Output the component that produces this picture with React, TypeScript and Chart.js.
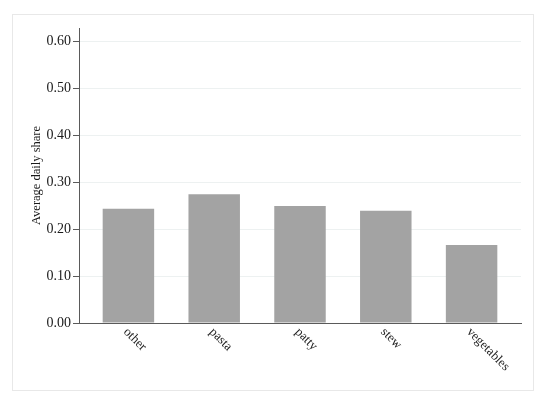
import React, { useEffect, useRef } from "react";
import { Chart, registerables } from "chart.js";

Chart.register(...registerables);

const categories = ["other", "pasta", "patty", "stew", "vegetables"];
const shares = [0.243, 0.274, 0.249, 0.239, 0.166];
const yTickValues = [0, 0.1, 0.2, 0.3, 0.4, 0.5, 0.6];
const yTitle = "Average daily share";

const FONT = "'Liberation Serif', 'Times New Roman', serif";

const framePlugin = {
  id: "frame",
  beforeDraw(chart: any) {
    const ctx = chart.ctx;
    ctx.save();
    ctx.fillStyle = "#ffffff";
    ctx.fillRect(0, 0, chart.width, chart.height);
    ctx.strokeStyle = "#e8e8e8";
    ctx.lineWidth = 1;
    ctx.strokeRect(12.5, 14.5, 521, 376);
    ctx.restore();
  },
};

const xLabelPlugin = {
  id: "xLabels",
  afterDraw(chart: any) {
    const ctx = chart.ctx;
    const xs = chart.scales.x;
    const bottom = chart.chartArea.bottom;
    ctx.save();
    ctx.fillStyle = "#222222";
    ctx.font = `13px ${FONT}`;
    ctx.textAlign = "left";
    ctx.textBaseline = "middle";
    categories.forEach((c, i) => {
      const px = xs.getPixelForValue(i);
      ctx.save();
      ctx.translate(px - 3, bottom + 7);
      ctx.rotate(Math.PI / 4);
      ctx.fillText(c, 0, 0);
      ctx.restore();
    });
    ctx.restore();
  },
};

export default function App() {
  const ref = useRef<HTMLCanvasElement>(null);
  useEffect(() => {
    if (!ref.current) return;
    const chart = new Chart(ref.current, {
      type: "bar",
      data: {
        datasets: [
          {
            data: shares.map((v, i) => ({ x: i, y: v })),
            backgroundColor: "#a3a3a3",
            borderWidth: 0,
            barPercentage: 0.6,
            categoryPercentage: 1,
          },
        ],
      },
      options: {
        responsive: false,
        animation: false,
        events: [],
        layout: { padding: { top: 28, right: 29, left: 0, bottom: 0 } },
        plugins: { legend: { display: false }, tooltip: { enabled: false } },
        scales: {
          x: {
            type: "linear",
            offset: false,
            min: -0.576,
            max: 4.576,
            afterBuildTicks: (s: any) => {
              s.ticks = categories.map((_, i) => ({ value: i }));
            },
            afterFit: (s: any) => {
              s.height = 81;
            },
            ticks: { display: false },
            grid: { display: false, drawTicks: false, offset: false },
            border: { display: true, color: "#5a5a5a", width: 1 },
          },
          y: {
            type: "linear",
            min: 0,
            max: 0.628,
            afterBuildTicks: (s: any) => {
              s.ticks = yTickValues.map((v) => ({ value: v }));
            },
            afterFit: (s: any) => {
              s.width = 79;
            },
            ticks: {
              display: true,
              padding: 2,
              color: "#1a1a1a",
              font: { family: FONT, size: 14 },
              callback: (v: any) => Number(v).toFixed(2),
            },
            grid: {
              display: true,
              drawTicks: true,
              tickLength: 6,
              color: (ctx: any) => (ctx.tick && ctx.tick.value === 0 ? "rgba(0,0,0,0)" : "#edf1f1"),
              tickColor: "#5a5a5a",
              lineWidth: 1,
            },
            border: { display: true, color: "#5a5a5a", width: 1 },
            title: {
              display: true,
              text: yTitle,
              color: "#1a1a1a",
              font: { family: FONT, size: 12.5 },
              padding: { top: 29, bottom: 0 },
            },
          },
        },
      },
      plugins: [framePlugin, xLabelPlugin],
    } as any);
    return () => chart.destroy();
  }, []);
  return (
    <div style={{ position: "fixed", left: 0, top: 0, width: 550, height: 404, background: "#fff" }}>
      <canvas ref={ref} width={550} height={404} style={{ display: "block" }} />
    </div>
  );
}
